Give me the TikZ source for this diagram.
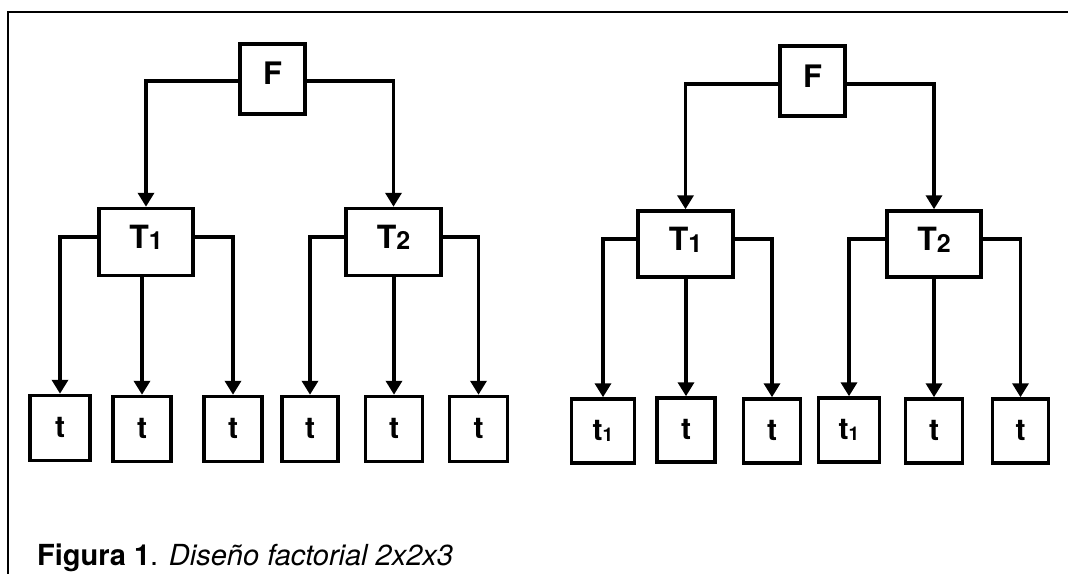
\documentclass[tikz,border=0pt]{standalone}
\usepackage{fontspec}
\setmainfont{TeX Gyre Heros}
\usetikzlibrary{arrows.meta}
\newcommand\boxlbl[2]{\raisebox{#1}[0pt][0pt]{#2}}
\newcommand\sublbl[3]{\raisebox{-#2}{\fontsize{#1}{#1}\selectfont\bfseries #3}}
\begin{document}
\begin{tikzpicture}[x=1pt,y=-1pt,
  bx/.style={draw, line width=3.5pt, inner sep=0pt, font=\bfseries\fontsize{32}{32}\selectfont},
  fbox/.style={bx, minimum width=65pt, minimum height=70pt, font=\bfseries\fontsize{31}{31}\selectfont},
  tbox/.style={bx, minimum width=94pt, minimum height=67pt},
  sbox/.style={bx, minimum width=58pt, minimum height=65pt, font=\bfseries\fontsize{30}{30}\selectfont},
  con/.style={line width=3.5pt},
  arr/.style={con, -{Triangle[width=16pt,length=14pt]}}]
\useasboundingbox (0,0) rectangle (1068,573);
% frame
\draw[line width=2.5pt] (8,576) -- (8,12) -- (1071,12);
% ---------- left diagram ----------
\node[fbox] (LF) at (272.5,79) {\boxlbl{-5pt}{F}};
\node[tbox] (LT1) at (146,242) {\boxlbl{-6pt}{T\sublbl{25}{1.5pt}{1}}};
\node[tbox, minimum width=95pt] (LT2) at (393.5,242) {\boxlbl{-6pt}{T\sublbl{25}{1.5pt}{2}}};
\node[sbox, minimum width=60pt] (Lb1) at (60,428) {\boxlbl{-9pt}{t}};
\node[sbox] (Lb2) at (142,429) {\boxlbl{-9pt}{t}};
\node[sbox] (Lb3) at (233,429) {\boxlbl{-9pt}{t}};
\node[sbox, minimum width=56pt] (Lb4) at (310,429) {\boxlbl{-9pt}{t}};
\node[sbox, minimum width=57pt] (Lb5) at (394,429) {\boxlbl{-9pt}{t}};
\node[sbox] (Lb6) at (478.5,429) {\boxlbl{-9pt}{t}};
\draw[arr] ([yshift=-2pt]LF.west) -| (LT1);
\draw[arr] ([yshift=-2pt]LF.east) -| (LT2);
\draw[arr] ([yshift=5pt]LT1.west) -| (Lb1);
\draw[arr] (LT1.south -| Lb2) -- (Lb2);
\draw[arr] ([yshift=5pt]LT1.east) -| (Lb3);
\draw[arr] ([yshift=5pt]LT2.west) -| (Lb4);
\draw[arr] (LT2.south -| Lb5) -- (Lb5);
\draw[arr] ([yshift=5pt]LT2.east) -| (Lb6);
% ---------- right diagram ----------
\node[fbox] (RF) at (812.5,81) {\boxlbl{-6pt}{F}};
\node[tbox, minimum width=95pt, minimum height=66pt] (RT1) at (685.5,244) {\boxlbl{-6.5pt}{T\sublbl{25}{1.5pt}{1}}};
\node[tbox, minimum height=66pt] (RT2) at (934,244) {\boxlbl{-6.5pt}{T\sublbl{25}{1.5pt}{2}}};
\node[sbox, minimum width=63pt, minimum height=64pt] (Rb1) at (603,431) {\boxlbl{-9.5pt}{t\sublbl{19}{1pt}{1}}};
\node[sbox, minimum height=64pt] (Rb2) at (686,430) {\boxlbl{-9.5pt}{t}};
\node[sbox, minimum width=57pt, minimum height=64pt] (Rb3) at (772,431) {\boxlbl{-9.5pt}{t}};
\node[sbox, minimum width=61pt, minimum height=64pt] (Rb4) at (849,430) {\boxlbl{-9.5pt}{t\sublbl{19}{1pt}{1}}};
\node[sbox, minimum width=57pt, minimum height=64pt] (Rb5) at (934,431) {\boxlbl{-9.5pt}{t}};
\node[sbox, minimum width=56pt, minimum height=64pt] (Rb6) at (1020.5,431) {\boxlbl{-9.5pt}{t}};
\draw[arr] ([yshift=-3pt]RF.west) -| (RT1);
\draw[arr] ([yshift=-3pt]RF.east) -| (RT2);
\draw[arr] ([yshift=5pt]RT1.west) -| (Rb1);
\draw[arr] (RT1.south -| Rb2) -- (Rb2);
\draw[arr] ([yshift=5pt]RT1.east) -| (Rb3);
\draw[arr] ([yshift=5pt]RT2.west) -| (Rb4);
\draw[arr] (RT2.south -| Rb5) -- (Rb5);
\draw[arr] ([yshift=5pt]RT2.east) -| (Rb6);
% caption
\node[anchor=base west, inner sep=0pt, font=\fontsize{29}{29}\selectfont] (cap) at (37,565.5)
  {\textbf{Figura 1}. \textit{Diseño factorial 2x2x3}};
\end{tikzpicture}
\end{document}
